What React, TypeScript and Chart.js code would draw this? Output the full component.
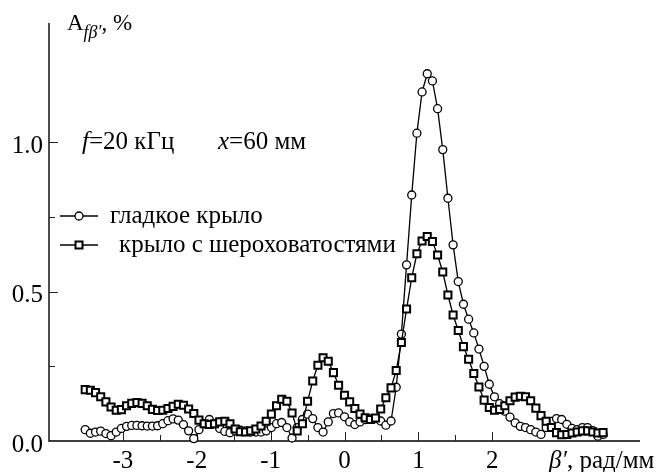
import React, { useEffect, useRef } from "react";
import { Chart, registerables } from "chart.js";

Chart.register(...registerables);

// β', рад/мм — common sampling grid of both series
const beta = [
  -3.51, -3.44, -3.37, -3.30, -3.23, -3.16, -3.09, -3.02, -2.95, -2.88,
  -2.81, -2.74, -2.67, -2.60, -2.53, -2.46, -2.39, -2.32, -2.25, -2.18,
  -2.11, -2.04, -1.97, -1.90, -1.83, -1.76, -1.69, -1.62, -1.55, -1.48,
  -1.41, -1.34, -1.27, -1.20, -1.13, -1.06, -0.99, -0.92, -0.85, -0.78,
  -0.71, -0.64, -0.57, -0.50, -0.43, -0.36, -0.29, -0.22, -0.15, -0.08,
  0.00, 0.07, 0.14, 0.21, 0.28, 0.35, 0.42, 0.49, 0.56, 0.63,
  0.70, 0.77, 0.84, 0.91, 0.98, 1.05, 1.12, 1.19, 1.26, 1.33,
  1.40, 1.47, 1.54, 1.61, 1.68, 1.75, 1.82, 1.89, 1.96, 2.03,
  2.10, 2.17, 2.24, 2.31, 2.38, 2.45, 2.52, 2.59, 2.66, 2.73,
  2.80, 2.87, 2.94, 3.01, 3.08, 3.15, 3.22, 3.29, 3.36, 3.43,
  3.50,
];

// гладкое крыло (circles)
const smoothWing = [
  0.038, 0.026, 0.030, 0.033, 0.025, 0.018, 0.030, 0.042, 0.049, 0.052,
  0.052, 0.051, 0.050, 0.050, 0.051, 0.058, 0.068, 0.074, 0.070, 0.055,
  0.034, 0.008, 0.038, 0.058, 0.072, 0.058, 0.042, 0.032, 0.028, 0.034,
  0.036, 0.034, 0.030, 0.030, 0.030, 0.034, 0.045, 0.058, 0.062, 0.045,
  0.010, 0.045, 0.072, 0.090, 0.075, 0.045, 0.030, 0.064, 0.092, 0.094,
  0.081, 0.064, 0.055, 0.064, 0.072, 0.074, 0.075, 0.067, 0.053, 0.067,
  0.180, 0.358, 0.590, 0.824, 1.031, 1.169, 1.230, 1.206, 1.113, 0.976,
  0.813, 0.657, 0.534, 0.458, 0.408, 0.362, 0.308, 0.250, 0.190, 0.148,
  0.125, 0.100, 0.080, 0.061, 0.049, 0.045, 0.038, 0.030, 0.022, 0.045,
  0.066, 0.075, 0.072, 0.056, 0.042, 0.038, 0.045, 0.045, 0.035, 0.016,
  0.022,
];

// крыло с шероховатостями (squares)
const roughWing = [
  0.172, 0.170, 0.162, 0.148, 0.131, 0.114, 0.103, 0.105, 0.118, 0.126,
  0.129, 0.126, 0.118, 0.106, 0.102, 0.103, 0.109, 0.116, 0.123, 0.120,
  0.107, 0.092, 0.070, 0.058, 0.055, 0.058, 0.064, 0.066, 0.058, 0.040,
  0.031, 0.030, 0.034, 0.040, 0.050, 0.066, 0.090, 0.118, 0.140, 0.133,
  0.094, 0.034, 0.058, 0.133, 0.201, 0.254, 0.279, 0.267, 0.229, 0.187,
  0.153, 0.131, 0.109, 0.090, 0.078, 0.072, 0.077, 0.107, 0.145, 0.178,
  0.236, 0.330, 0.442, 0.547, 0.627, 0.670, 0.685, 0.668, 0.623, 0.566,
  0.489, 0.422, 0.370, 0.316, 0.274, 0.226, 0.181, 0.137, 0.112, 0.103,
  0.106, 0.118, 0.135, 0.147, 0.150, 0.148, 0.135, 0.110, 0.085, 0.066,
  0.045, 0.028, 0.021, 0.022, 0.027, 0.030, 0.034, 0.034, 0.030, 0.027,
  0.028,
];

const xTickValues = [-3, -2.5, -2, -1.5, -1, -0.5, 0, 0.5, 1, 1.5, 2];
const xTickLabels = ["-3", "-2", "-1", "0", "1", "2"];
const xLabelValues = [-3, -2, -1, 0, 1, 2];
const yTickValues = [0.25, 0.5, 0.75, 1.0];
const yLabelValues = [0, 0.5, 1.0];
const yTickLabels = ["0.0", "0.5", "1.0"];

const seriesNames = ["гладкое крыло", "крыло с шероховатостями"];
const xTitleItalic = "β′";
const xTitleRest = ", рад/мм";
const noteParts = ["f", "=20 кГц", "x", "=60 мм"];

const SERIF = '"Liberation Serif", "Times New Roman", serif';
const FS = 25;

function drawCircle(ctx: CanvasRenderingContext2D, x: number, y: number) {
  ctx.beginPath();
  ctx.arc(x, y, 4, 0, Math.PI * 2);
  ctx.fillStyle = "#fff";
  ctx.fill();
  ctx.lineWidth = 1.3;
  ctx.strokeStyle = "#000";
  ctx.stroke();
}

function drawSquare(ctx: CanvasRenderingContext2D, x: number, y: number) {
  ctx.beginPath();
  ctx.rect(x - 3.5, y - 3.5, 7, 7);
  ctx.fillStyle = "#fff";
  ctx.fill();
  ctx.lineWidth = 2;
  ctx.strokeStyle = "#000";
  ctx.stroke();
}

const axesPlugin = {
  id: "customAxes",
  beforeDatasetsDraw(chart: any) {
    const { ctx, chartArea: a, scales } = chart;
    const xs = scales.x;
    const ys = scales.y;
    ctx.save();
    ctx.strokeStyle = "#000";
    ctx.lineWidth = 1.4;
    ctx.beginPath();
    ctx.moveTo(a.left, a.top);
    ctx.lineTo(a.left, a.bottom);
    ctx.lineTo(a.right, a.bottom);
    ctx.stroke();

    ctx.lineWidth = 1;
    ctx.strokeStyle = "#222";
    for (const t of xTickValues) {
      const px = Math.round(xs.getPixelForValue(t)) + 0.5;
      const len = Number.isInteger(t) ? 9 : 6;
      ctx.beginPath();
      ctx.moveTo(px, a.bottom);
      ctx.lineTo(px, a.bottom - len);
      ctx.stroke();
    }
    for (const t of yTickValues) {
      const py = Math.round(ys.getPixelForValue(t)) + 0.5;
      const len = Math.abs(t * 2 - Math.round(t * 2)) < 1e-9 ? 9 : 6;
      ctx.beginPath();
      ctx.moveTo(a.left, py);
      ctx.lineTo(a.left + len, py);
      ctx.stroke();
    }

    ctx.fillStyle = "#000";
    ctx.font = `${FS}px ${SERIF}`;
    ctx.textBaseline = "alphabetic";
    ctx.textAlign = "right";
    yLabelValues.forEach((v, i) => {
      const py = ys.getPixelForValue(v);
      ctx.fillText(yTickLabels[i], a.left - 6, py + 10.5);
    });
    ctx.textAlign = "center";
    xLabelValues.forEach((v, i) => {
      const px = xs.getPixelForValue(v);
      ctx.fillText(xTickLabels[i], px, a.bottom + 26.5);
    });

    // x-axis title
    ctx.textAlign = "left";
    let tx = 549;
    ctx.font = `italic ${FS}px ${SERIF}`;
    ctx.fillText(xTitleItalic, tx, a.bottom + 26.5);
    tx += ctx.measureText(xTitleItalic).width;
    ctx.font = `${FS}px ${SERIF}`;
    ctx.fillText(xTitleRest, tx, a.bottom + 26.5);

    // y-axis title A_{fβ'}, %
    let ax = 67;
    ctx.font = `23px ${SERIF}`;
    ctx.fillText("A", ax, 30);
    ax += ctx.measureText("A").width;
    ctx.font = `italic 18px ${SERIF}`;
    ctx.fillText("fβ′", ax, 38);
    ax += ctx.measureText("fβ′").width;
    ctx.font = `23px ${SERIF}`;
    ctx.fillText(", %", ax, 30);

    // annotation
    let nx = 82;
    const ny = 149;
    ctx.font = `italic ${FS}px ${SERIF}`;
    ctx.fillText(noteParts[0], nx, ny);
    nx += ctx.measureText(noteParts[0]).width;
    ctx.font = `${FS}px ${SERIF}`;
    ctx.fillText(noteParts[1], nx, ny);
    nx = 218;
    ctx.font = `italic ${FS}px ${SERIF}`;
    ctx.fillText(noteParts[2], nx, ny);
    nx += ctx.measureText(noteParts[2]).width;
    ctx.font = `${FS}px ${SERIF}`;
    ctx.fillText(noteParts[3], nx, ny);

    // legend
    const rows = [216, 245];
    rows.forEach((ry, i) => {
      ctx.strokeStyle = "#000";
      ctx.lineWidth = 1.5;
      ctx.beginPath();
      ctx.moveTo(60, ry);
      ctx.lineTo(98, ry);
      ctx.stroke();
      if (i === 0) drawCircle(ctx, 79, ry);
      else drawSquare(ctx, 79, ry);
      ctx.fillStyle = "#000";
      ctx.font = `${FS}px ${SERIF}`;
      ctx.textAlign = "left";
      ctx.fillText(seriesNames[i], i === 0 ? 110 : 119, ry + 6.5);
    });
    ctx.restore();
  },
};

export default function App() {
  const ref = useRef<HTMLCanvasElement | null>(null);
  useEffect(() => {
    if (!ref.current) return;
    const chart = new Chart(ref.current, {
      type: "line",
      data: {
        datasets: [
          {
            label: seriesNames[1],
            data: beta.map((b, i) => ({ x: b, y: roughWing[i] })),
            borderColor: "#000",
            borderWidth: 1.3,
            pointStyle: "rect",
            pointRadius: 5,
            pointBorderWidth: 2,
            pointBackgroundColor: "#fff",
            pointBorderColor: "#000",
            tension: 0,
            clip: false,
            order: 0,
          },
          {
            label: seriesNames[0],
            data: beta.map((b, i) => ({ x: b, y: smoothWing[i] })),
            borderColor: "#000",
            borderWidth: 1.3,
            pointStyle: "circle",
            pointRadius: 4,
            pointBorderWidth: 1.3,
            pointBackgroundColor: "#fff",
            pointBorderColor: "#000",
            tension: 0,
            clip: false,
            order: 1,
          },
        ],
      },
      options: {
        responsive: false,
        animation: false,
        devicePixelRatio: 1,
        layout: { padding: { left: 49, top: 23, right: 16, bottom: 31 } },
        plugins: { legend: { display: false }, tooltip: { enabled: false } },
        scales: {
          x: { type: "linear", min: -4, max: 4, display: false },
          y: { type: "linear", min: 0, max: 1.4, display: false },
        },
      },
      plugins: [axesPlugin],
    });
    return () => chart.destroy();
  }, []);
  return (
    <div style={{ position: "fixed", left: 0, top: 0, width: 656, height: 472, background: "#fff" }}>
      <canvas ref={ref} width={656} height={472} style={{ display: "block" }} />
    </div>
  );
}
